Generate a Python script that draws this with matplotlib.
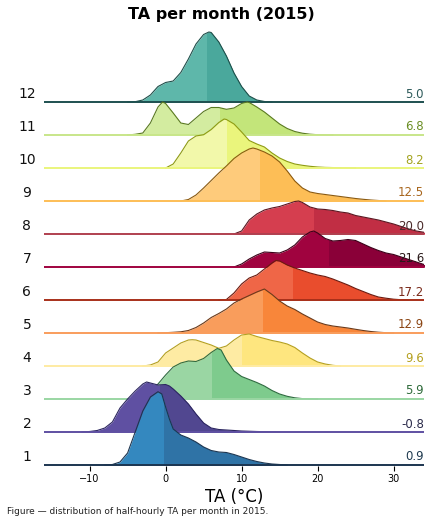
import numpy as np
import matplotlib
matplotlib.use("Agg")
import matplotlib.pyplot as plt
from matplotlib.patches import Rectangle
import matplotlib.transforms as mtransforms

# ridge profiles: temperature (degC) and ridge height (px above baseline)
ta_m01 = [-8, -7, -6, -5, -4, -3, -2, -1, -0.5, 0, 0.5, 1, 2, 3, 4, 5, 6, 7, 8, 9, 10, 11, 12, 13, 14, 15, 16]
h_m01 = [0, 0.5, 3, 12, 33, 54, 68, 73.3, 71, 58, 46, 36, 30, 27, 23, 18, 14.5, 13, 12.5, 10.5, 8, 5.5, 3.5, 2, 1, 0.5, 0]
ta_m02 = [-11, -10, -9, -8, -7, -6, -5, -4, -3, -2.5, -2, -1, 0, 0.5, 1, 2, 3, 4, 5, 6, 7, 8, 9, 10, 12, 15]
h_m02 = [0, 0.5, 1.5, 4, 10, 24, 33, 41, 48, 50, 49, 47, 47.5, 46, 43, 36, 28, 18, 9, 4, 2.5, 2, 1.5, 1, 0.5, 0]
ta_m03 = [-4, -3, -2, -1, 0, 1, 2, 3, 4, 5, 6, 6.8, 7.3, 8, 9, 10, 11, 12, 13, 14, 15, 16, 17, 18, 20]
h_m03 = [0, 2, 7, 15, 24, 32, 36, 38, 37.5, 40.5, 46.5, 50.5, 49, 39, 28, 22.5, 19.5, 16.5, 13, 8.5, 5, 2.7, 1.2, 0.4, 0]
ta_m04 = [-3, -2, -1, 0, 1, 2, 3, 3.5, 4, 5, 6, 7, 8, 9, 10, 11, 12, 13, 14, 15, 16, 17, 18, 19, 20, 21, 22, 23]
h_m04 = [0, 1, 4, 13, 18, 23, 26, 26.3, 26, 23.5, 21, 17.7, 20, 26, 31, 32, 29.5, 27.5, 25.5, 24, 22, 18.5, 13, 8, 4, 2, 0.7, 0]
ta_m05 = [-1, 0, 1, 2, 3, 4, 5, 6, 7, 8, 9, 10, 11, 12, 13, 14, 15, 16, 17, 18, 19, 20, 21, 22, 23, 24, 25, 26, 27, 28, 29, 30]
h_m05 = [0, 0.3, 0.7, 1.2, 2.5, 5.5, 10, 15.5, 19.5, 24, 30, 34, 37.5, 41, 44, 38.5, 32, 27, 23.5, 19, 15, 11, 8.5, 7, 6, 5, 3.7, 2.5, 1.5, 0.8, 0.3, 0]
ta_m06 = [7, 8, 9, 10, 11, 12, 13, 14, 14.5, 15, 16, 17, 18, 19, 20, 21, 22, 23, 24, 25, 26, 27, 28, 29, 30, 31, 32]
h_m06 = [0, 0.5, 7, 16, 22, 25, 31, 37, 39.5, 39, 35, 32, 29.5, 27, 25, 23.5, 21, 18, 15, 11.5, 8.5, 5.5, 3, 1.8, 0.8, 0.3, 0]
ta_m07 = [9, 10, 11, 12, 13, 14, 15, 16, 17, 18, 19, 19.5, 20, 21, 22, 23, 24, 25, 26, 27, 28, 29, 30, 31, 32, 33, 34, 35]
h_m07 = [0, 3, 8, 12, 15, 14.5, 14, 17, 22, 30, 35, 36, 34, 28.5, 26, 26.5, 27.5, 26.5, 23, 19.5, 16.5, 14, 12.5, 10, 7.5, 5, 2.5, 1]
ta_m08 = [9, 10, 11, 12, 13, 14, 15, 16, 17, 17.5, 18, 19, 20, 21, 22, 23, 24, 25, 26, 27, 28, 29, 30, 31, 32, 33, 34, 35]
h_m08 = [0, 3, 14, 20, 24, 26, 27.5, 30, 32.5, 33, 31.5, 27, 25, 24.5, 23.5, 22, 21, 18.5, 17, 15.5, 14, 12, 10, 7.5, 5, 3, 1.7, 0.8]
ta_m09 = [2, 3, 4, 5, 6, 7, 8, 9, 10, 11, 11.5, 12, 13, 14, 15, 16, 17, 18, 19, 20, 21, 22, 23, 24, 25, 26, 27, 28, 29]
h_m09 = [0, 1.5, 6, 13, 20.5, 28, 35, 42.5, 48, 52, 53, 52, 49, 45, 39, 30, 20, 13, 9, 7.5, 6.5, 5.5, 4.5, 3.5, 2.5, 1.7, 1, 0.5, 0]
ta_m10 = [0, 1, 2, 3, 4, 5, 6, 7, 7.7, 8, 9, 10, 11, 12, 13, 14, 15, 16, 17, 18, 19, 20, 21, 23, 25]
h_m10 = [0, 4, 15, 27, 32, 33.3, 38.5, 45.5, 49, 48.5, 44, 36, 27.5, 24, 21, 15, 10, 6.5, 4, 2.7, 1.7, 1, 0.6, 0.3, 0]
ta_m11 = [-5, -4, -3, -2, -1, -0.4, 0, 1, 2, 3, 4, 5, 6, 7, 8, 9, 10, 10.7, 11, 12, 13, 14, 15, 16, 17, 18, 19, 20, 22]
h_m11 = [0, 0.7, 2, 12, 28, 33, 31.5, 22, 12, 10.5, 17, 23.5, 27.5, 27.5, 25.7, 27, 31.5, 33, 32.5, 28, 23, 17, 11, 6.5, 3.5, 1.8, 0.8, 0.3, 0]
ta_m12 = [-5, -4, -3, -2, -1, 0, 1, 2, 3, 4, 5, 5.7, 6, 7, 8, 9, 10, 11, 12, 13, 14]
h_m12 = [0, 0.3, 2, 7, 15.5, 19.5, 21, 29.5, 43, 58, 67.5, 70, 69.5, 60, 46, 29, 15.5, 6, 2, 0.5, 0]

months = [1, 2, 3, 4, 5, 6, 7, 8, 9, 10, 11, 12]
split_ta = [-0.2, -0.8, 6.05, 10.1, 12.8, 16.7, 21.5, 19.5, 12.4, 8.1, 7.2, 5.4]
mean_ta = [0.9, -0.8, 5.9, 9.6, 12.9, 17.2, 21.6, 20.0, 12.5, 8.2, 6.8, 5.0]

ta_all = [ta_m01, ta_m02, ta_m03, ta_m04, ta_m05, ta_m06, ta_m07, ta_m08, ta_m09, ta_m10, ta_m11, ta_m12]
h_all = [h_m01, h_m02, h_m03, h_m04, h_m05, h_m06, h_m07, h_m08, h_m09, h_m10, h_m11, h_m12]

light_c = ["#3488bf", "#5f50a2", "#9ad6a3", "#feeba3", "#f99d5c", "#ef6647", "#a0033f", "#d53e4f",
           "#fecb7b", "#f2f8aa", "#d3eca0", "#5eb7aa"]
dark_c = ["#2f73a6", "#514790", "#7ecb8d", "#fee67f", "#f8863a", "#e94d2d", "#8a0038", "#c12e44",
          "#fdbe56", "#eaf57c", "#c3e57a", "#4aa89c"]
edge_c = ["#1c3550", "#2c2660", "#2f6b40", "#b5a020", "#6b3a1a", "#6b1a0f", "#3b0018", "#5a1620",
          "#8b5a10", "#8f9b12", "#5a7a20", "#1e4f4a"]
base_c = ["#1c3550", "#5f50a2", "#9ad6a3", "#feeba3", "#f99d5c", "#a8301a", "#a0033f", "#b0404f",
          "#fdbe56", "#eaf57c", "#c8e68a", "#1e5050"]
text_c = ["#1f3a4f", "#2a2a4a", "#2e6b3a", "#b5a020", "#8b4513", "#7a2a1a", "#2a1a1a", "#4a2a2a",
          "#a8661e", "#a3a31f", "#6b8e23", "#2d5a5a"]

spacing = 33.0  # px between ridge baselines
xmin, xmax = -16, 34

fig = plt.figure(figsize=(4.31, 5.23), dpi=100)
ax = fig.add_axes([44 / 431, (523 - 466) / 523, 380 / 431, 436 / 523])
ax.set_xlim(xmin, xmax)
ax.set_ylim(-1 / spacing, 435 / spacing)

trans = mtransforms.blended_transform_factory(ax.transAxes, ax.transData)

for i, m in enumerate(months):
    x = np.array(ta_all[i])
    y = np.array(h_all[i]) / spacing
    y0 = i
    z = 60 - 4 * i
    ax.fill_between(x, y0, y0 + y, color=light_c[i], lw=0, zorder=z)
    dk = ax.fill_between(x, y0, y0 + y, color=dark_c[i], lw=0, zorder=z + 0.5)
    # darker half right of the split, kept inside the axes
    clip = Rectangle((split_ta[i], y0 - 1), xmax - split_ta[i], 20, transform=ax.transData)
    dk.set_clip_path(clip)
    ax.plot(x, y0 + y, color=edge_c[i], lw=0.8, zorder=z + 1)
    ax.axhline(y0, color=base_c[i], lw=1.4, zorder=z + 1.5)
    ax.text(-0.045, y0 + 8 / spacing, str(m), transform=trans, ha="center", va="center",
            fontsize=10, color="#111111")
    ax.text(1.0, y0 + 8 / spacing, f"{mean_ta[i]:.1f}", transform=trans, ha="right", va="center",
            fontsize=8.5, color=text_c[i], zorder=200)

for s in ax.spines.values():
    s.set_visible(False)
ax.set_yticks([])
ax.set_xticks([-10, 0, 10, 20, 30])
ax.tick_params(axis="x", labelsize=7, length=3.5, width=0.8, pad=2)
ax.set_xlabel("TA (°C)", fontsize=12, labelpad=3)

fig.text(0.513, 1 - 14 / 523, "TA per month (2015)", fontsize=11.5, weight="bold",
         ha="center", va="center")
fig.text(7 / 431, 1 - 511 / 523, "Figure — distribution of half-hourly TA per month in 2015.",
         fontsize=6.5, va="center", color="#222222")

fig.savefig("out.png", dpi=100)
